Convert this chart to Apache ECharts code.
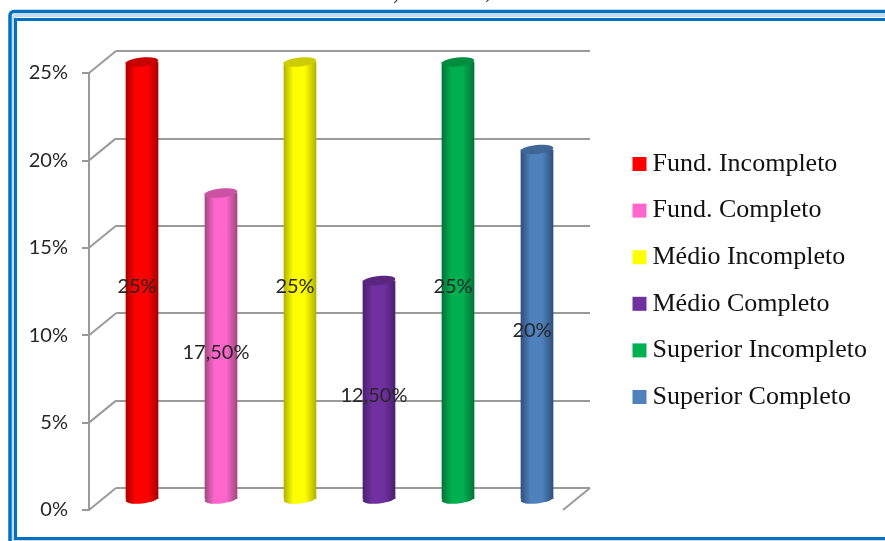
<!DOCTYPE html>
<html>
<head>
<meta charset="utf-8">
<style>html,body{margin:0;padding:0;background:#fff}#chart{width:885px;height:541px}</style>
<script src="https://cdn.jsdelivr.net/npm/echarts@6/dist/echarts.min.js"></script>
</head>
<body>
<div id="chart"></div>
<script>
// Schooling level shares, drawn as 3D-style cylinders in a wall-and-floor box.
const categories = ['Fund. Incompleto', 'Fund. Completo', 'Médio Incompleto', 'Médio Completo', 'Superior Incompleto', 'Superior Completo'];
const values = [25, 17.5, 25, 12.5, 25, 20];
const valueLabels = ['25%', '17,50%', '25%', '12,50%', '25%', '20%'];
const yTicks = [0, 5, 10, 15, 20, 25];
const mainColors = ['#FF0000', '#FF66CC', '#FFFF00', '#7030A0', '#00B050', '#4F81BD'];
const edgeColors = ['#A80000', '#A04880', '#B0B000', '#4A2070', '#007438', '#2E4F7C'];
const capColors = ['#C80000', '#CC52A3', '#CCCC00', '#5A2680', '#008D40', '#3E6797'];

const LINE = '#9A9A9A';
const DEPTH_X = 27, DEPTH_Y = 22;
const LEFT = 89, TOP = 73, PLOT_W = 474, PLOT_H = 437;
const SANS = 'Lato, "Open Sans", sans-serif';

const chart = echarts.init(document.getElementById('chart'), null, { renderer: 'canvas' });

function hiddenX(gridIndex) {
  return { type: 'category', data: categories, gridIndex, show: false };
}
function hiddenY(gridIndex, extra) {
  return Object.assign({ type: 'value', gridIndex, min: 0, max: 25, interval: 5, show: false }, extra || {});
}

// Cylinder: shaded body, rounded foot and a darker tilted cap.
function cylinder(i) {
  return function (params, api) {
    const base = api.coord([i, 0]);
    const top = api.coord([i, values[i]]);
    const rx = api.size([1, 0])[0] * 0.207;
    const ry = 4.5, tilt = 0.1;
    const fill = new echarts.graphic.LinearGradient(0, 0, 1, 0, [
      { offset: 0, color: edgeColors[i] },
      { offset: 0.3, color: mainColors[i] },
      { offset: 0.65, color: mainColors[i] },
      { offset: 1, color: edgeColors[i] }
    ]);
    const ellipse = (cy, color) => ({
      type: 'ellipse',
      x: top[0], y: cy, rotation: tilt,
      shape: { cx: 0, cy: 0, rx, ry },
      style: { fill: color }
    });
    return {
      type: 'group',
      children: [
        ellipse(base[1], fill),
        { type: 'rect', shape: { x: top[0] - rx, y: top[1], width: rx * 2, height: base[1] - top[1] }, style: { fill } },
        ellipse(top[1], capColors[i]),
        {
          type: 'text', z2: 100,
          x: top[0] - 5, y: (top[1] + base[1]) / 2 + 6,
          style: { text: valueLabels[i], fill: '#262626', font: '20px ' + SANS, align: 'center', verticalAlign: 'middle' }
        }
      ]
    };
  };
}

// Slanted edges joining the front axis to the back wall, plus the floor's right edge.
function wallEdges(params, api) {
  const p = api.coord([0, api.value(0)]);
  const halfBand = api.size([1, 0])[0] / 2;
  const x0 = p[0] - halfBand;
  const children = [{
    type: 'line', shape: { x1: x0, y1: p[1], x2: x0 + DEPTH_X, y2: p[1] - DEPTH_Y },
    style: { stroke: LINE, lineWidth: 2 }
  }];
  if (api.value(0) === 0) {
    const x1 = x0 + halfBand * 2 * categories.length;
    children.push({
      type: 'line', shape: { x1, y1: p[1], x2: x1 + DEPTH_X, y2: p[1] - DEPTH_Y },
      style: { stroke: LINE, lineWidth: 2 }
    });
  }
  return { type: 'group', children };
}

const barSeries = categories.map((name, i) => ({
  name,
  type: 'custom',
  xAxisIndex: 2, yAxisIndex: 2,
  itemStyle: { color: mainColors[i] },
  renderItem: cylinder(i),
  data: [[i, values[i]]],
  clip: false,
  z: 5
}));

chart.setOption({
  animation: false,
  backgroundColor: '#fff',
  grid: [
    { left: LEFT, top: TOP, width: PLOT_W, height: PLOT_H },
    { left: LEFT + DEPTH_X, top: TOP - DEPTH_Y, width: PLOT_W, height: PLOT_H },
    { left: LEFT + DEPTH_X / 2, top: TOP - DEPTH_Y / 2, width: PLOT_W, height: PLOT_H }
  ],
  xAxis: [hiddenX(0), hiddenX(1), hiddenX(2)],
  yAxis: [
    {
      type: 'value', gridIndex: 0, min: 0, max: 25, interval: 5,
      axisLine: { show: true, lineStyle: { color: LINE, width: 2 } },
      axisTick: { show: true, length: 7, lineStyle: { color: LINE, width: 2 } },
      splitLine: { show: false },
      axisLabel: { formatter: '{value}%', fontFamily: SANS, fontSize: 20, color: '#262626', margin: 21, padding: [6, 0, 0, 0] }
    },
    hiddenY(1, { show: true, axisLine: { show: false }, axisTick: { show: false }, axisLabel: { show: false },
      splitLine: { show: true, lineStyle: { color: LINE, width: 2 } } }),
    hiddenY(2)
  ],
  legend: {
    orient: 'vertical',
    left: 627.5, top: 146,
    itemWidth: 14, itemHeight: 14, itemGap: 20.6,
    icon: 'rect',
    selectedMode: false,
    data: categories,
    textStyle: { fontFamily: '"Liberation Serif", serif', fontSize: 26, color: '#111', padding: [0, 0, 0, 1] }
  },
  graphic: [
    { type: 'rect', z: -1, shape: { x: 13, y: 15.5, width: 1000, height: 525, r: 3 }, style: { fill: 'none', stroke: '#C5DAEE', lineWidth: 3 } },
    { type: 'rect', z: -1, shape: { x: 10, y: 11.5, width: 1000, height: 700, r: 4 }, style: { fill: 'none', stroke: '#0070C0', lineWidth: 3.5 } },
    { type: 'rect', z: -1, shape: { x: 15.5, y: 19.5, width: 1000, height: 519 }, style: { fill: 'none', stroke: '#0070C0', lineWidth: 3 } },
    { type: 'text', x: 393, y: -19, style: { text: ',', font: '24px "Liberation Serif", serif', fill: '#222' } },
    { type: 'text', x: 485, y: -20, style: { text: ',', font: '24px "Liberation Serif", serif', fill: '#222' } }
  ],
  series: [{
    type: 'custom',
    xAxisIndex: 0, yAxisIndex: 0,
    renderItem: wallEdges,
    data: yTicks.map(v => [v]),
    encode: { y: 0 },
    clip: false,
    silent: true,
    z: 1
  }].concat(barSeries)
});
</script>
</body>
</html>
